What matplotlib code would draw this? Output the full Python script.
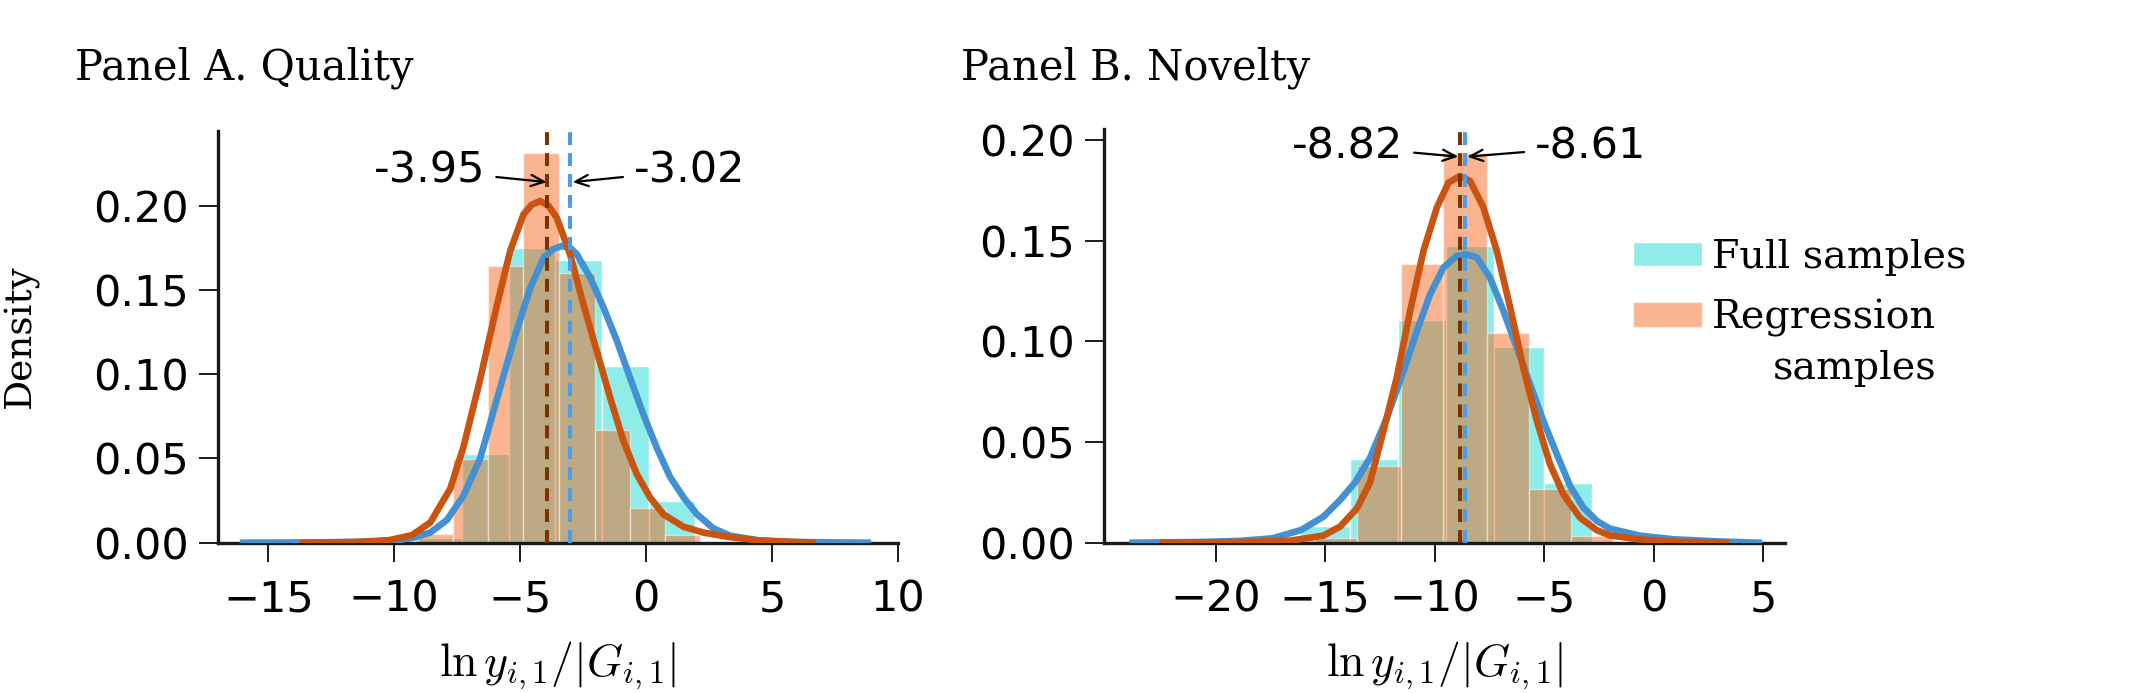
import numpy as np
import matplotlib
matplotlib.use("Agg")
import matplotlib.pyplot as plt
import matplotlib.patches as mpatches
from matplotlib.legend_handler import HandlerPatch

# ---------------- data ----------------
# Panel A. Quality : histogram bin edges and densities
A_full_edges = [-9.17, -7.31, -5.46, -3.61, -1.75, 0.10, 1.95]
A_full_dens = [0.0030, 0.0524, 0.1751, 0.1678, 0.1048, 0.0247]
A_reg_edges = [-9.05, -7.65, -6.26, -4.87, -3.45, -2.05, -0.66, 0.73, 2.12]
A_reg_dens = [0.0049, 0.0495, 0.1642, 0.2311, 0.1602, 0.0669, 0.0208, 0.0045]
A_full_mean = -3.02
A_reg_mean = -3.95
# Panel A density curves (x, density)
A_full_kde_x = [-16.0, -13.0, -11.0, -10.0, -9.23, -8.57, -7.91, -7.25, -6.59, -5.93, -5.27, -4.60,
                -4.07, -3.70, -3.35, -3.00, -2.75, -2.22, -1.69, -1.16, -0.64, -0.11, 0.42, 0.95,
                1.48, 2.01, 2.67, 3.33, 4.5, 6.0, 8.8]
A_full_kde_y = [0.0, 0.0002, 0.0006, 0.0012, 0.0030, 0.0060, 0.0135, 0.0280, 0.0500, 0.0850, 0.1197, 0.1513,
                0.1691, 0.1742, 0.1761, 0.1748, 0.1711, 0.1573, 0.1395, 0.1197, 0.0979, 0.0762, 0.0564, 0.0390,
                0.0270, 0.0170, 0.0085, 0.0042, 0.0013, 0.0004, 0.0]
A_reg_kde_x = [-13.6, -11.5, -10.2, -9.3, -8.57, -7.78, -7.25, -6.59, -6.26, -5.93, -5.40, -4.87,
               -4.55, -4.21, -3.88, -3.55, -3.02, -2.49, -1.96, -1.43, -0.90, -0.37, 0.16, 0.69,
               1.48, 2.28, 3.33, 4.5, 6.6]
A_reg_kde_y = [0.0, 0.0004, 0.0015, 0.0045, 0.0120, 0.0320, 0.0570, 0.0970, 0.1190, 0.1405, 0.1731, 0.1949,
               0.2005, 0.2028, 0.2000, 0.1929, 0.1711, 0.1414, 0.1137, 0.0861, 0.0603, 0.0406, 0.0267, 0.0168,
               0.0095, 0.0060, 0.0033, 0.0013, 0.0]
A_xticks = [-15, -10, -5, 0, 5, 10]
A_yticks = [0.00, 0.05, 0.10, 0.15, 0.20]

# Panel B. Novelty
B_full_edges = [-16.13, -13.88, -11.67, -9.50, -7.30, -5.02, -2.80]
B_full_dens = [0.0083, 0.0418, 0.1104, 0.1474, 0.0972, 0.0298]
B_reg_edges = [-15.47, -13.53, -11.53, -9.60, -7.62, -5.67, -3.77, -1.85]
B_reg_dens = [0.0021, 0.0381, 0.1382, 0.1937, 0.1043, 0.0268, 0.0033]
B_full_mean = -8.61
B_reg_mean = -8.82
B_full_kde_x = [-23.8, -20.5, -18.9, -17.4, -16.1, -15.08, -14.32, -13.63, -12.95, -12.18, -11.42, -10.81,
                -10.21, -9.60, -8.99, -8.53, -8.07, -7.47, -6.86, -6.25, -5.64, -5.03, -4.42, -3.81,
                -3.21, -2.59, -2.0, -0.62, 0.9, 3.0, 4.8]
B_full_kde_y = [0.0, 0.0004, 0.0009, 0.0022, 0.0063, 0.0129, 0.0212, 0.0300, 0.0422, 0.0621, 0.0853, 0.1051,
                0.1233, 0.1366, 0.1424, 0.1432, 0.1416, 0.1316, 0.1151, 0.0969, 0.0786, 0.0604, 0.0439, 0.0281,
                0.0174, 0.0108, 0.0070, 0.0035, 0.0017, 0.0006, 0.0]
B_reg_kde_x = [-22.4, -19.0, -16.6, -15.08, -14.32, -13.55, -12.95, -12.34, -11.73, -11.12, -10.51, -9.90,
               -9.37, -8.84, -8.38, -7.77, -7.16, -6.55, -5.95, -5.33, -4.73, -4.12, -3.36, -2.59,
               -1.99, -0.62, 1.0, 3.3]
B_reg_kde_y = [0.0, 0.0003, 0.0010, 0.0035, 0.0080, 0.0170, 0.0300, 0.0555, 0.0820, 0.1150, 0.1449, 0.1664,
               0.1788, 0.1821, 0.1796, 0.1664, 0.1449, 0.1167, 0.0869, 0.0604, 0.0389, 0.0240, 0.0124, 0.0062,
               0.0036, 0.0016, 0.0006, 0.0]
B_xticks = [-20, -15, -10, -5, 0, 5]
B_yticks = [0.00, 0.05, 0.10, 0.15, 0.20]

series_labels = ["Full samples", "Regression\nsamples"]
panel_titles = ["Panel A. Quality", "Panel B. Novelty"]
y_label = "Density"
x_label = r"$\ln y_{i,1}/|G_{i,1}|$"

# ---------------- style ----------------
plt.rcParams["font.family"] = ["DejaVu Sans"]
plt.rcParams["mathtext.fontset"] = "cm"

C_FULL_BAR = "#8EEDE8"
C_REG_BAR = "#F85A0A"
REG_ALPHA = 0.45
C_FULL_LINE = "#4391D3"
C_REG_LINE = "#C9530F"
C_FULL_MEAN = "#4A9DEB"
C_REG_MEAN = "#7B3300"

TICK_FS = 31
SERIF = ["DejaVu Serif"]

W, H = 2135, 693
fig = plt.figure(figsize=(W / 100, H / 100), dpi=100)

axA = fig.add_axes([218 / W, 1 - 542.7 / H, (898 - 218) / W, (542.7 - 130.7) / H])
axB = fig.add_axes([1104 / W, 1 - 542.7 / H, (1785 - 1104) / W, (542.7 - 129.3) / H])


def draw_panel(ax, fe, fd, re, rd, fmean, rmean, fkx, fky, rkx, rky, xticks, yticks, xlim, ylim):
    fe = np.asarray(fe); re = np.asarray(re)
    ax.bar(fe[:-1], fd, width=np.diff(fe), align="edge", color=C_FULL_BAR,
           edgecolor="white", linewidth=1.0, zorder=1)
    ax.bar(re[:-1], rd, width=np.diff(re), align="edge", color=C_REG_BAR, alpha=REG_ALPHA,
           edgecolor="white", linewidth=1.0, zorder=2)
    ax.plot(fkx, fky, color=C_FULL_LINE, lw=4.8, zorder=3, solid_joinstyle="round")
    ax.plot(rkx, rky, color=C_REG_LINE, lw=4.8, zorder=4, solid_joinstyle="round")
    ax.axvline(rmean, color=C_REG_MEAN, lw=2.9, dashes=(3.2, 2.0), zorder=5)
    ax.axvline(fmean, color=C_FULL_MEAN, lw=2.9, dashes=(3.2, 2.0), zorder=6)
    ax.set_xlim(*xlim)
    ax.set_ylim(*ylim)
    ax.set_xticks(xticks)
    ax.set_yticks(yticks)
    ax.set_yticklabels([f"{v:.2f}" for v in yticks])
    for s in ["top", "right"]:
        ax.spines[s].set_visible(False)
    for s in ["left", "bottom"]:
        ax.spines[s].set_linewidth(2.4)
        ax.spines[s].set_color("#1a1a1a")
    ax.tick_params(axis="both", labelsize=TICK_FS, length=14, width=1.4, color="#1a1a1a")
    ax.tick_params(axis="x", pad=12)
    ax.tick_params(axis="y", pad=7)
    ax.set_xlabel(x_label, fontsize=33, labelpad=13)


arrow_kw = dict(arrowstyle="->,head_length=0.3,head_width=0.13", color="black", lw=1.6,
                shrinkA=6, shrinkB=0)

draw_panel(axA, A_full_edges, A_full_dens, A_reg_edges, A_reg_dens, A_full_mean, A_reg_mean,
           A_full_kde_x, A_full_kde_y, A_reg_kde_x, A_reg_kde_y, A_xticks, A_yticks,
           (-17.0, 10.0), (0, 0.2445))
axA.annotate(f"{A_reg_mean:.2f}", xy=(A_reg_mean, 0.214), xytext=(-6.39, 0.221), ha="right", va="center",
             fontsize=TICK_FS, arrowprops=arrow_kw, zorder=7)
axA.annotate(f"{A_full_mean:.2f}", xy=(A_full_mean + 0.1, 0.214), xytext=(-0.48, 0.221), ha="left", va="center",
             fontsize=TICK_FS, arrowprops=arrow_kw, zorder=7)

draw_panel(axB, B_full_edges, B_full_dens, B_reg_edges, B_reg_dens, B_full_mean, B_reg_mean,
           B_full_kde_x, B_full_kde_y, B_reg_kde_x, B_reg_kde_y, B_xticks, B_yticks,
           (-25.1, 6.0), (0, 0.2053))
axB.annotate(f"{B_reg_mean:.2f}", xy=(B_reg_mean - 0.1, 0.1917), xytext=(-11.44, 0.1967), ha="right", va="center",
             fontsize=TICK_FS, arrowprops=arrow_kw, zorder=7)
axB.annotate(f"{B_full_mean:.2f}", xy=(B_full_mean + 0.1, 0.1917), xytext=(-5.41, 0.1967), ha="left", va="center",
             fontsize=TICK_FS, arrowprops=arrow_kw, zorder=7)

# legend: patch of the two-line entry aligned with its first line
LEG_FS = 28.5
LINESP = 1.45


def shifted_patch(legend, orig_handle, xdescent, ydescent, width, height, fontsize):
    return mpatches.Rectangle((-xdescent, -ydescent + 0.5 * LINESP * fontsize), width, height)


proxy_full = mpatches.Patch(facecolor=C_FULL_BAR, edgecolor="white", linewidth=1.0)
proxy_reg = mpatches.Patch(facecolor=C_REG_BAR, alpha=REG_ALPHA, edgecolor="white", linewidth=1.0)
leg = axB.legend([proxy_full, proxy_reg], series_labels, loc="upper left",
                 handler_map={proxy_reg: HandlerPatch(patch_func=shifted_patch)},
                 bbox_to_anchor=(1633 / W, 1 - 239 / H), bbox_transform=fig.transFigure,
                 frameon=False, prop={"family": SERIF, "size": LEG_FS},
                 handlelength=1.75, handleheight=0.58, handletextpad=0.25,
                 labelspacing=0.57, borderpad=0, borderaxespad=0)
for t in leg.get_texts():
    t.set_multialignment("right")
    t.set_linespacing(LINESP)

fig.text(75 / W, 1 - 68 / H, panel_titles[0], fontsize=30, family=SERIF, ha="left", va="center")
fig.text(961 / W, 1 - 68 / H, panel_titles[1], fontsize=30, family=SERIF, ha="left", va="center")
fig.text(21 / W, 1 - 336 / H, y_label, fontsize=27, family=SERIF, rotation=90, ha="center", va="center")

fig.savefig("out.png", dpi=100)
